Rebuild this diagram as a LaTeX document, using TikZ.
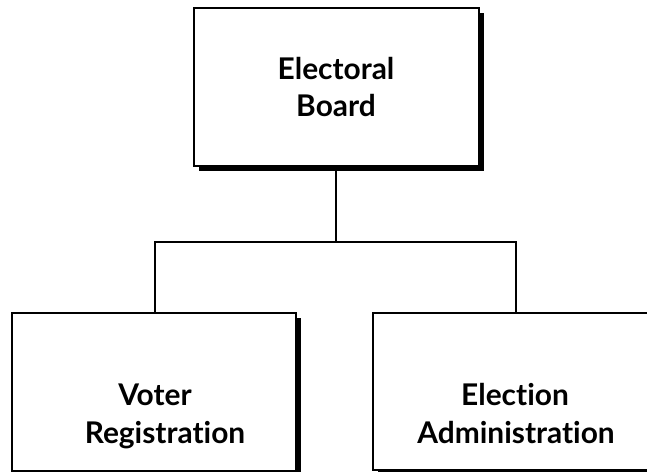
\documentclass[tikz,border=0pt]{standalone}
\usepackage{fontspec}
\setmainfont[Ligatures={NoCommon}]{Lato}
\usetikzlibrary{shadows}
\begin{document}
\begin{tikzpicture}[x=1bp,y=-1bp,
  box/.style={draw=black, line width=1.5bp, fill=white, inner sep=0pt,
    drop shadow={shadow xshift=5bp, shadow yshift=-5bp, fill=black, opacity=1}},
  lbl/.style={font=\fontsize{30}{36}\selectfont\bfseries, inner sep=0pt, anchor=base},
  conn/.style={draw=black, line width=1.2bp}]
\useasboundingbox (0,0) rectangle (647,472);
\node[box, minimum width=285bp, minimum height=158bp] (board) at (336.5,87) {};
\node[box, minimum width=284bp, minimum height=158bp] (voter) at (154,392) {};
\node[box, minimum width=287bp, minimum height=157bp] (admin) at (516.5,391.5) {};
\coordinate (split) at (336,242);
\coordinate (lc) at (155,242);
\coordinate (rc) at (516,242);
\draw[conn] (board.south -| split) -- (split);
\draw[conn] (voter.north -| lc) -- (lc) -- (rc) -- (admin.north -| rc);
\node[lbl] (t1) at (336,80) {Electoral};
\node[lbl] (t2) at (336,117) {Board};
\node[lbl] (l1) at (155,405) {Voter};
\node[lbl] (l2) at (165,443) {Registration};
\node[lbl] (r1) at (515,405) {Election};
\node[lbl] (r2) at (516,443) {Administration};
\end{tikzpicture}
\end{document}
